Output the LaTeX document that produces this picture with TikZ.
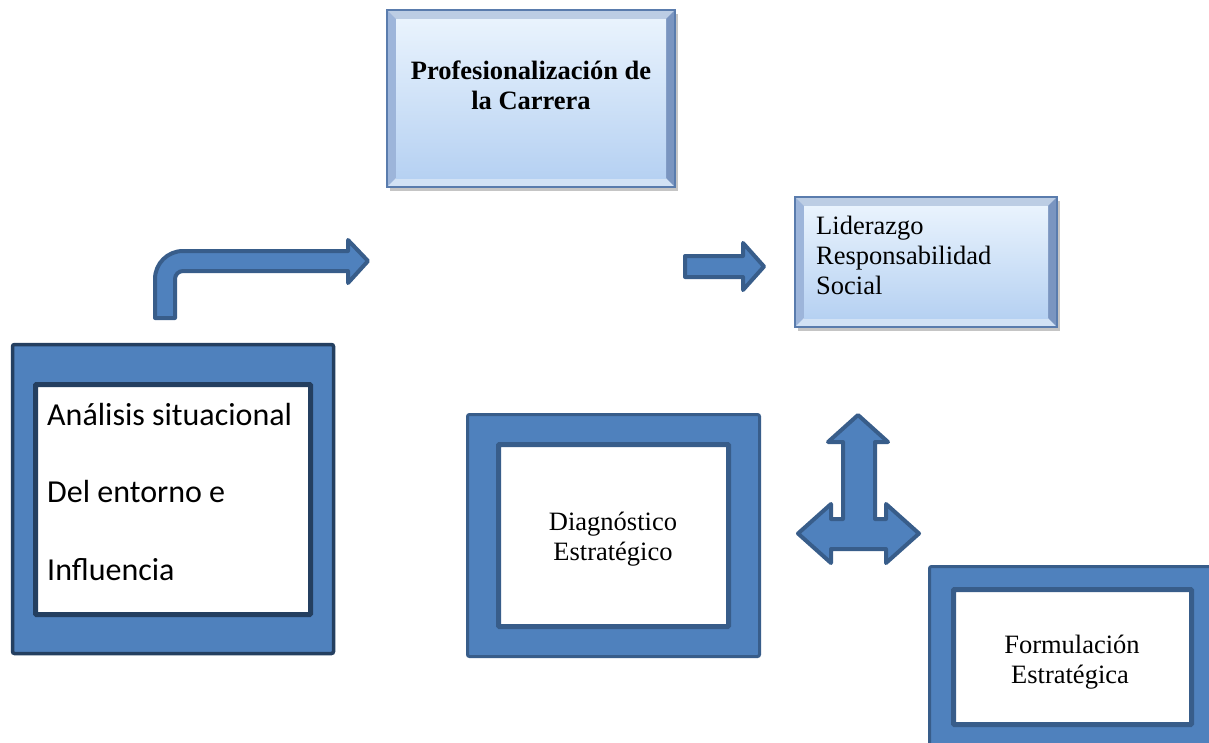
\documentclass[tikz,border=0pt]{standalone}
\usepackage{fontspec}
\setmainfont{Liberation Serif}
\newfontfamily\calibrifont{Carlito}
\usetikzlibrary{shadows}
\definecolor{shapeblue}{HTML}{4F81BD}
\definecolor{shapeedge}{HTML}{385D8A}
\definecolor{darkedge}{HTML}{243F60}
\definecolor{bevtop}{HTML}{BCCDE4}
\definecolor{bevbot}{HTML}{D2E2F5}
\definecolor{bevleft}{HTML}{9DB5DA}
\definecolor{bevright}{HTML}{7A95C0}
\definecolor{bevline}{HTML}{5A7CAD}
\definecolor{gradtop}{HTML}{E9F3FD}
\definecolor{gradbot}{HTML}{B6D1F2}

\begin{document}
\begin{tikzpicture}[x=1pt,y=-1pt,
    blockarrow/.style={fill=shapeblue,draw=shapeedge,line width=4pt,line join=round},
    outerframe/.style={fill=shapeblue,draw=#1,line width=3.5pt,rounded corners=2pt},
    innerframe/.style={fill=white,draw=#1,line width=5pt,rounded corners=1pt},
    txt/.style={font=\fontsize{26.5}{30.5}\selectfont,inner sep=0pt,anchor=base}]
    \useasboundingbox (0,0) rectangle (1209,742);
    \fill[white] (0,0) rectangle (1209,742);
    \clip (0,0) rectangle (1209,742);

    % bevelled boxes
    \foreach \a/\b/\c/\d in {387/10/675/187, 795/197/1057/327} {
        \fill[bevleft,drop shadow={opacity=.45,shadow xshift=3pt,shadow yshift=-4pt}] (\a,\b) rectangle (\c,\d);
        \fill[bevtop] (\a,\b) -- (\c,\b) -- (\c-9,\b+9) -- (\a+9,\b+9) -- cycle;
        \fill[bevbot] (\a,\d) -- (\c,\d) -- (\c-9,\d-9) -- (\a+9,\d-9) -- cycle;
        \fill[bevright] (\c,\b) -- (\c-9,\b+9) -- (\c-9,\d-9) -- (\c,\d) -- cycle;
        \shade[top color=gradtop, bottom color=gradbot] (\a+9,\b+9) rectangle (\c-9,\d-9);
        \draw[bevline,line width=1.2pt] (\a,\b) rectangle (\c,\d);}

    \node[txt,font=\fontsize{26.5}{30.5}\selectfont\bfseries] (prof1) at (531,79) {Profesionalización de};
    \node[txt,font=\fontsize{26.5}{30.5}\selectfont\bfseries] (prof2) at (531,109) {la Carrera};

    \foreach \i/\y/\t in {1/234/Liderazgo, 2/264/Responsabilidad, 3/294/Social}
        \node[txt,anchor=base west] (lid\i) at (816,\y) {\t};

    % framed boxes
    \draw[outerframe=darkedge] (12.5,344.5) rectangle (333.5,653.5);
    \draw[innerframe=darkedge] (35.5,384.5) rectangle (310.5,614.5);
    \foreach \i/\y/\t in {1/425/Análisis situacional, 2/502/Del entorno e, 3/580/Influencia}
        \node[inner sep=0pt,anchor=base west,font=\calibrifont\fontsize{32}{38}\selectfont] (ana\i) at (47,\y) {\t};

    \draw[outerframe=shapeedge,line width=3pt] (467.5,414.5) rectangle (759.5,656.5);
    \draw[innerframe=shapeedge] (498.5,444.5) rectangle (728.5,626.5);
    \node[txt] (diag1) at (613,530) {Diagnóstico};
    \node[txt] (diag2) at (613,560) {Estratégico};

    \draw[outerframe=shapeedge,line width=3pt] (929.5,566.5) rectangle (1240,770);
    \draw[innerframe=shapeedge] (953.5,589.5) rectangle (1191.5,724.5);
    \node[txt] (form1) at (1072,653) {Formulación};
    \node[txt] (form2) at (1070,683) {Estratégica};

    % block arrows
    \draw[blockarrow] (155,318) -- (155,279) .. controls (155,263.5) and (167.5,251) .. (183,251)
        -- (348,251) -- (348,240) -- (368,261) -- (348,283) -- (348,271) -- (183,271)
        .. controls (178.6,271) and (175,274.6) .. (175,279) -- (175,318) -- cycle;
    \draw[blockarrow] (685,256) -- (743,256) -- (743,243) -- (764,266.5) -- (743,290)
        -- (743,277) -- (685,277) -- cycle;
    \draw[blockarrow] (843,519) -- (843,442) -- (828,442) -- (858,415) -- (888,442) -- (875,442)
        -- (875,519) -- (886,519) -- (886,504) -- (919,533.5) -- (886,563) -- (886,549)
        -- (831,549) -- (831,563) -- (798,533.5) -- (831,504) -- (831,519) -- cycle;
\end{tikzpicture}
\end{document}
